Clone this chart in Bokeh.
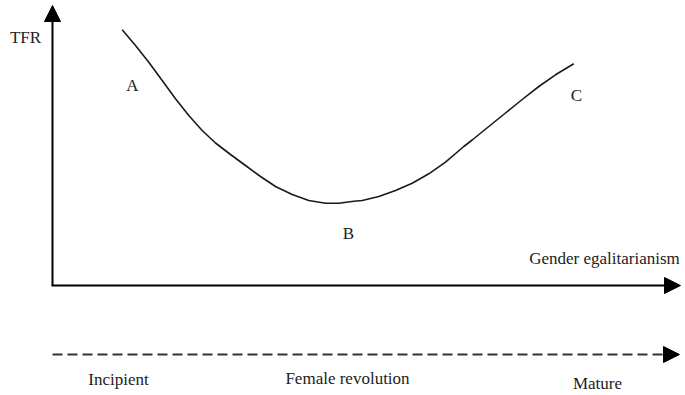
from bokeh.plotting import figure
from bokeh.models import Range1d, Arrow, NormalHead
from bokeh.core.properties import value
from bokeh.embed import file_html
from bokeh.resources import INLINE

# Curve (conceptual TFR vs gender egalitarianism) (screen-like coords)
curve_x = [121.7, 135, 148.3, 161.7, 175, 188.3, 201.7, 215, 230, 245, 260, 275,
           291.7, 308.3, 325, 338.3, 353.3, 361.7, 378.3, 395, 411.7, 428.3, 445,
           463.3, 471.7, 488.3, 505, 521.7, 538.3, 555, 573.3]
curve_y = [29.3, 45, 61.7, 80, 98.3, 115, 130, 142.5, 154, 165, 176, 186,
           194, 200, 202.7, 202.7, 200.7, 200, 196, 190, 182.7, 173.3, 161.7,
           146, 139.5, 126, 112.5, 99, 86, 74.3, 63.3]

point_labels = ["A", "B", "C"]
point_x = [132, 348, 576]
point_y = [85, 233, 95]

stage_labels = ["Incipient", "Female revolution", "Mature"]
stage_x = [118, 347, 597]
stage_y = [379, 378, 383]

FONT = "Liberation Serif"

p = figure(width=685, height=395, output_backend="svg", toolbar_location=None,
           x_range=Range1d(0, 685), y_range=Range1d(395, 0),
           min_border=0, outline_line_color=None)
p.axis.visible = False
p.grid.visible = False
p.background_fill_color = "white"
p.border_fill_color = "white"

# Curve
p.line(curve_x, curve_y, line_color="#1a1a1a", line_width=1.6, line_join="round")

# Axes as arrows
p.add_layout(Arrow(end=NormalHead(size=16, fill_color="black", line_color="black"),
                   x_start=52, y_start=285, x_end=52, y_end=5,
                   line_color="black", line_width=2))
p.add_layout(Arrow(end=NormalHead(size=16, fill_color="black", line_color="black"),
                   x_start=51, y_start=285, x_end=680, y_end=285,
                   line_color="black", line_width=2))
# Dashed progression arrow
p.add_layout(Arrow(end=NormalHead(size=16, fill_color="black", line_color="black"),
                   x_start=52, y_start=354, x_end=679, y_end=354,
                   line_color="#333333", line_width=2, line_dash="10 5"))

ts = "17px"
p.text(x=[25], y=[37], text=["TFR"], text_font=value(FONT), text_font_size=ts,
       text_align="center", text_baseline="middle", text_color="#222222")
p.text(x=[604], y=[258], text=["Gender egalitarianism"], text_font=value(FONT),
       text_font_size=ts, text_align="center", text_baseline="middle", text_color="#222222")
p.text(x=point_x, y=point_y, text=point_labels, text_font=value(FONT), text_font_size=ts,
       text_align="center", text_baseline="middle", text_color="#222222")
p.text(x=stage_x, y=stage_y, text=stage_labels, text_font=value(FONT), text_font_size=ts,
       text_align="center", text_baseline="middle", text_color="#222222")

open("out.html", "w").write(file_html(p, INLINE))
